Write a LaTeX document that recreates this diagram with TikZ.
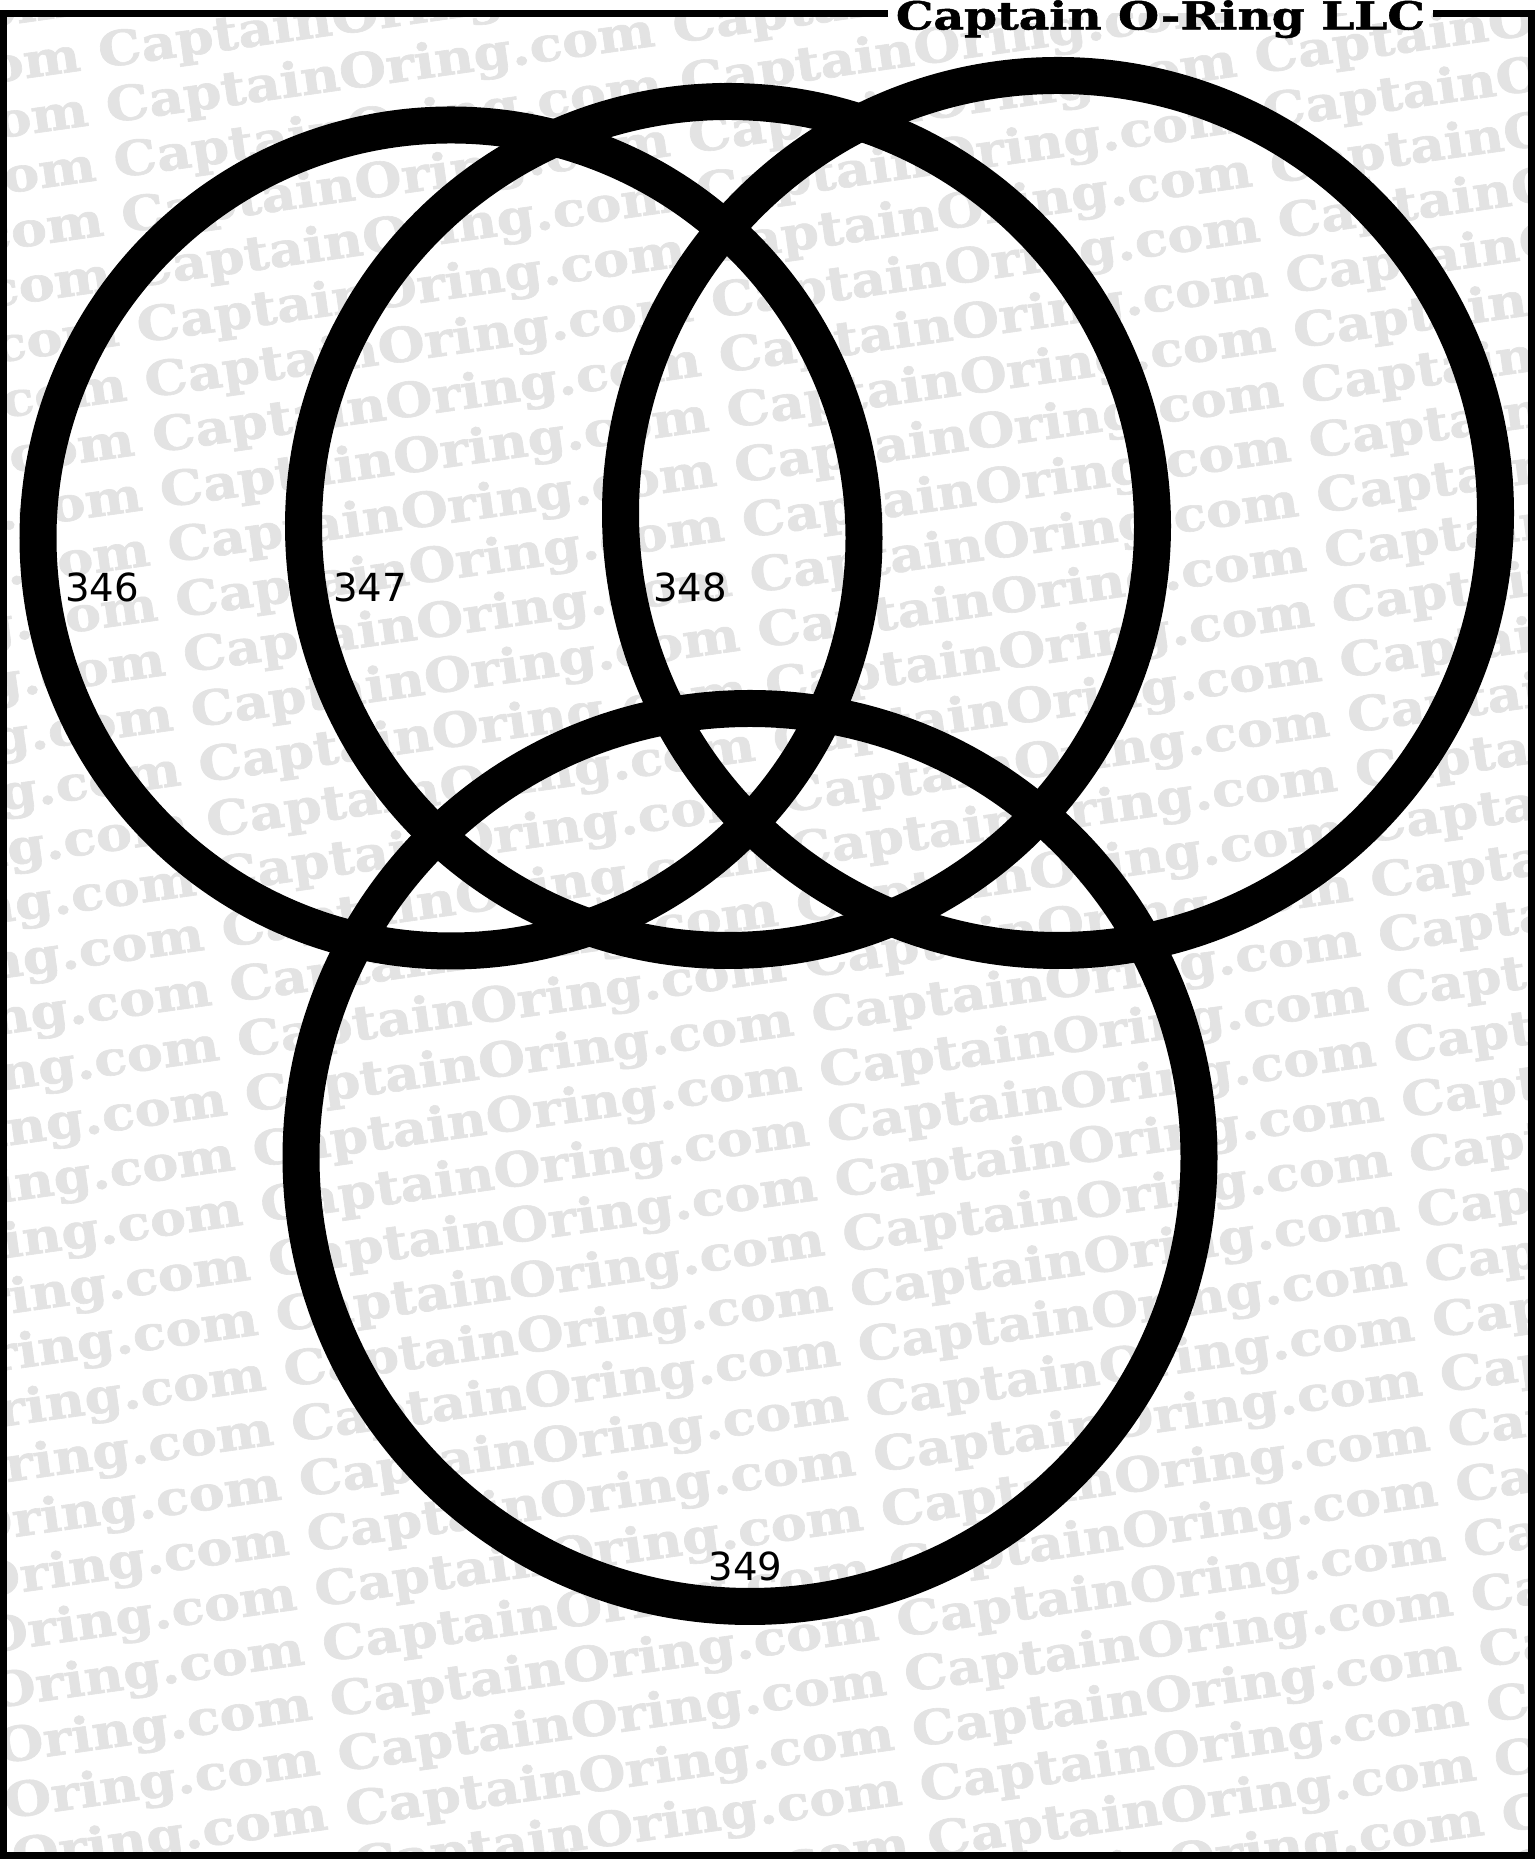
\documentclass[tikz,border=0pt]{standalone}
\usepackage{fontspec}
\setmainfont{DejaVu Sans}
\newfontfamily\slabfont[FakeBold=1.2]{DejaVu Serif Bold}
\usepackage{tikz}
\definecolor{ringblack}{HTML}{000000}
\definecolor{markgrey}{HTML}{E3E3E3}
\newcommand\markfont{\fontsize{13.6pt}{16pt}\slabfont}
\newcommand\markrow{\scalebox{1.13}[1]{CaptainOring.com CaptainOring.com CaptainOring.com CaptainOring.com CaptainOring.com}}
\newlength\markperiod
\tikzset{
  frame line/.style  = {black, line width=0.07cm, line join=miter},
  ring/.style        = {ringblack, line width=0.37cm},
  ring label/.style  = {font=\fontsize{11pt}{13pt}\selectfont, inner sep=0pt},
  title label/.style = {font=\fontsize{11pt}{13pt}\slabfont, inner xsep=2pt, inner ysep=0pt, anchor=base},
  watermark/.style   = {markgrey, font=\markfont, inner sep=0pt, anchor=base west},
}

\begin{document}
\settowidth{\markperiod}{\markfont\scalebox{1.13}[1]{CaptainOring.com\ }}
\begin{tikzpicture}
  \useasboundingbox (0,0) rectangle (15.35,18.59);
  \fill[white] (0,0) rectangle (15.35,18.59);
  \coordinate (nw) at (0.035,18.45);
  \coordinate (ne) at (15.315,18.45);
  \coordinate (se) at (15.315,0.04);
  \coordinate (sw) at (0.035,0.04);
  \begin{scope}
    \clip (nw) rectangle (se);
    \begin{scope}[shift={(1.00,17.91)}, rotate=8, transform shape]
      \foreach \row in {0,...,38}
        \node[watermark] at ({-\markperiod}, {(2-\row)*0.555cm}) {\markrow};
    \end{scope}
  \end{scope}
  \coordinate (c346) at (4.51,13.21);
  \coordinate (c347) at (7.28,13.33);
  \coordinate (c348) at (10.58,13.46);
  \coordinate (c349) at (7.50,7.015);
  \draw[ring] (c346) circle (4.13);
  \draw[ring] (c347) circle (4.245);
  \draw[ring] (c348) circle (4.375);
  \draw[ring] (c349) circle (4.49);
  \node[ring label] (l346) at (1.02,12.72) {346};
  \node[ring label] (l347) at (3.70,12.72) {347};
  \node[ring label] (l348) at (6.90,12.72) {348};
  \node[ring label] (l349) at (7.455,2.93) {349};
  \node[title label] (title) at (11.605,18.295) {\scalebox{1.22}[1]{Captain O-Ring LLC}};
  \draw[frame line] (title.west |- nw) -- (nw) -- (sw) -- (se) -- (ne) -- (title.east |- ne);
\end{tikzpicture}
\end{document}
